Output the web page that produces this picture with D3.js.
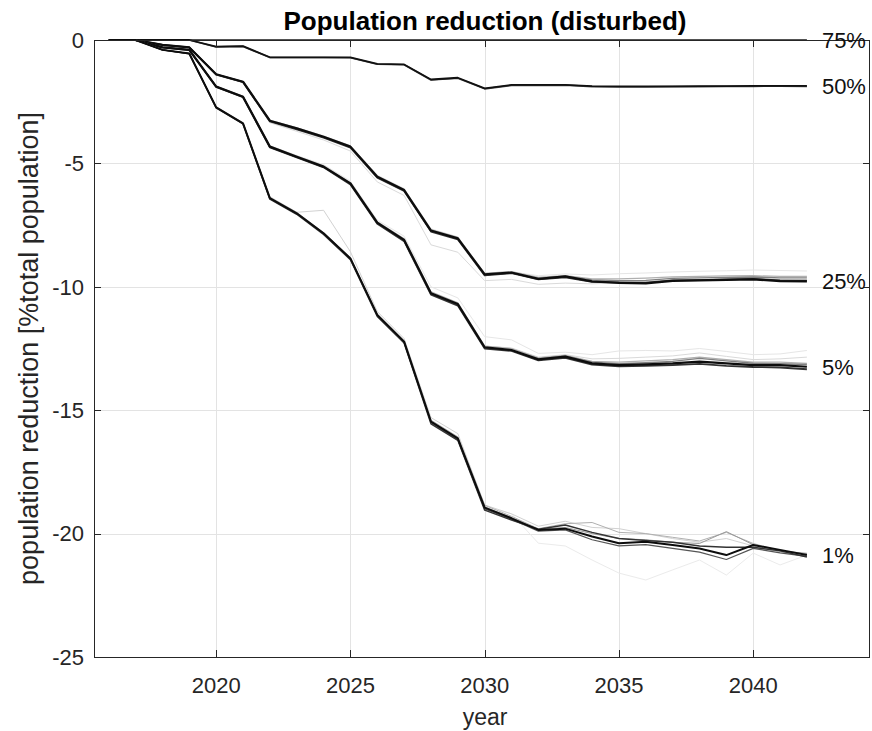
<!DOCTYPE html>
<html><head><meta charset="utf-8">
<script src="https://cdn.jsdelivr.net/npm/d3@7"></script>
<style>html,body{margin:0;padding:0;background:#fff;}svg{display:block;}</style>
</head><body>
<script>
const years = [2016,2017,2018,2019,2020,2021,2022,2023,2024,2025,2026,2027,2028,2029,2030,2031,2032,2033,2034,2035,2036,2037,2038,2039,2040,2041,2042];
const xTicks = [2020,2025,2030,2035,2040];
const yTicks = [0,-5,-10,-15,-20,-25];
const groupLabels = ["75%","50%","25%","5%","1%"];

// 75% scenario
const p75_a = [0,0,0,0,0,0,0,0,0,0,0,0,0,0,0,0,0,0,0,0,0,0,0,0,0,0,0];
// 50% scenario
const p50_b = [0,0,0,0,-0.28,-0.26,-0.71,-0.71,-0.71,-0.72,-0.98,-1.0,-1.62,-1.55,-1.98,-1.84,-1.84,-1.83,-1.89,-1.9,-1.9,-1.89,-1.89,-1.88,-1.88,-1.87,-1.88];
const p50_a = [0,0,0,0,-0.27,-0.25,-0.7,-0.7,-0.7,-0.7,-0.97,-0.99,-1.6,-1.53,-1.96,-1.82,-1.82,-1.82,-1.87,-1.88,-1.88,-1.88,-1.87,-1.87,-1.86,-1.86,-1.86];
// 25% scenario (light runs first)
const p25_d = [0,0,-0.2,-0.3,-1.38,-1.67,-3.24,-3.55,-3.88,-4.28,-5.48,-6.02,-7.65,-7.98,-9.45,-9.4,-9.55,-9.48,-9.52,-9.47,-9.44,-9.4,-9.37,-9.35,-9.32,-9.34,-9.36];
const p25_e = [0,0,-0.2,-0.3,-1.4,-1.72,-3.35,-3.7,-4.05,-4.5,-5.75,-6.3,-8.3,-8.6,-9.75,-9.7,-9.9,-9.85,-9.88,-9.84,-9.8,-9.72,-9.7,-9.68,-9.66,-9.7,-9.72];
const p25_c = [0,0,-0.2,-0.3,-1.38,-1.68,-3.25,-3.56,-3.9,-4.3,-5.5,-6.05,-7.68,-8.0,-9.46,-9.38,-9.62,-9.55,-9.68,-9.68,-9.65,-9.6,-9.58,-9.56,-9.55,-9.58,-9.58];
const p25_f = [0,0,-0.2,-0.3,-1.39,-1.7,-3.28,-3.6,-3.94,-4.34,-5.56,-6.1,-7.74,-8.06,-9.52,-9.44,-9.66,-9.57,-9.72,-9.75,-9.74,-9.66,-9.64,-9.62,-9.6,-9.64,-9.64];
const p25_b = [0,0,-0.2,-0.3,-1.4,-1.71,-3.3,-3.62,-3.96,-4.36,-5.58,-6.12,-7.76,-8.08,-9.54,-9.45,-9.7,-9.62,-9.8,-9.82,-9.83,-9.74,-9.73,-9.7,-9.68,-9.74,-9.75];
const p25_a = [0,0,-0.2,-0.3,-1.39,-1.69,-3.27,-3.58,-3.92,-4.32,-5.54,-6.08,-7.72,-8.04,-9.5,-9.42,-9.68,-9.58,-9.78,-9.84,-9.86,-9.76,-9.74,-9.72,-9.7,-9.77,-9.78];
// 5% scenario
const p5_d = [0,0,-0.3,-0.4,-1.87,-2.27,-4.28,-4.68,-5.05,-5.72,-7.3,-7.95,-10.0,-10.45,-12.02,-12.15,-12.7,-12.65,-12.75,-12.6,-12.58,-12.6,-12.5,-12.62,-12.75,-12.72,-12.58];
const p5_e = [0,0,-0.3,-0.4,-1.88,-2.29,-4.3,-4.72,-5.12,-5.8,-7.38,-8.08,-10.22,-10.68,-12.4,-12.48,-12.85,-12.75,-12.92,-12.9,-12.85,-12.8,-12.68,-12.82,-12.95,-12.92,-12.85];
const p5_c = [0,0,-0.3,-0.4,-1.88,-2.28,-4.3,-4.7,-5.1,-5.78,-7.36,-8.05,-10.2,-10.65,-12.4,-12.5,-12.88,-12.78,-13.02,-13.05,-13.0,-12.95,-12.85,-12.95,-13.05,-13.05,-13.1];
const p5_f = [0,0,-0.3,-0.4,-1.89,-2.3,-4.33,-4.74,-5.14,-5.83,-7.42,-8.12,-10.28,-10.72,-12.46,-12.58,-12.92,-12.8,-13.05,-13.12,-13.08,-13.02,-12.9,-13.0,-13.1,-13.12,-13.15];
const p5_b = [0,0,-0.3,-0.41,-1.9,-2.32,-4.35,-4.76,-5.16,-5.85,-7.45,-8.15,-10.32,-10.76,-12.5,-12.6,-12.98,-12.88,-13.15,-13.22,-13.2,-13.17,-13.12,-13.2,-13.25,-13.27,-13.34];
const p5_a = [0,0,-0.3,-0.4,-1.89,-2.3,-4.32,-4.73,-5.13,-5.81,-7.4,-8.1,-10.26,-10.7,-12.45,-12.56,-12.94,-12.83,-13.1,-13.17,-13.14,-13.1,-13.03,-13.1,-13.17,-13.17,-13.24];
// 1% scenario
const p1_d = [0,0,-0.4,-0.55,-2.74,-3.39,-6.42,-7.04,-7.86,-8.88,-11.16,-12.24,-15.5,-16.18,-18.9,-19.2,-20.39,-20.5,-21.07,-21.6,-21.88,-21.47,-21.07,-21.68,-20.79,-21.27,-20.87];
const p1_e = [0,0,-0.4,-0.55,-2.7,-3.35,-6.35,-6.98,-6.9,-8.58,-11.0,-12.1,-15.3,-15.95,-18.84,-19.2,-19.7,-19.5,-19.75,-19.8,-20.0,-20.2,-20.35,-20.2,-20.5,-20.75,-20.8];
const p1_c = [0,0,-0.4,-0.55,-2.72,-3.36,-6.38,-6.98,-7.8,-8.82,-11.1,-12.18,-15.4,-16.08,-18.85,-19.3,-19.8,-19.6,-19.55,-19.95,-20.0,-20.15,-20.3,-19.95,-20.4,-20.7,-20.8];
const p1_g = [0,0,-0.4,-0.55,-2.73,-3.38,-6.4,-7.0,-7.82,-8.84,-11.12,-12.2,-15.44,-16.12,-18.92,-19.35,-19.82,-19.75,-20.0,-20.2,-20.25,-20.35,-20.4,-19.92,-20.45,-20.7,-20.82];
const p1_f = [0,0,-0.4,-0.55,-2.73,-3.38,-6.42,-7.03,-7.85,-8.87,-11.16,-12.25,-15.5,-16.2,-19.0,-19.42,-19.9,-19.85,-20.25,-20.5,-20.45,-20.6,-20.75,-21.05,-20.6,-20.78,-20.92];
const p1_b = [0,0,-0.4,-0.56,-2.75,-3.4,-6.45,-7.06,-7.88,-8.9,-11.2,-12.28,-15.55,-16.22,-19.05,-19.45,-19.82,-19.65,-19.95,-20.2,-20.28,-20.35,-20.5,-20.55,-20.55,-20.7,-20.95];
const p1_a = [0,0,-0.4,-0.55,-2.73,-3.38,-6.41,-7.02,-7.83,-8.85,-11.14,-12.22,-15.46,-16.14,-18.95,-19.38,-19.85,-19.8,-20.12,-20.39,-20.33,-20.46,-20.6,-20.87,-20.46,-20.66,-20.87];

const groups = [
  [p75_a],
  [p50_b, p50_a],
  [p25_d, p25_e, p25_c, p25_f, p25_b, p25_a],
  [p5_d, p5_e, p5_c, p5_f, p5_b, p5_a],
  [p1_d, p1_e, p1_c, p1_g, p1_f, p1_b, p1_a]
];

const W = 872, H = 731;
const L = 94, R = 870, T = 40, B = 657;
const svg = d3.select("body").append("svg").attr("width", W).attr("height", H)
  .style("font-family", "'Liberation Sans', Arial, Helvetica, sans-serif");

const x = d3.scaleLinear().domain([2015.45, 2044.35]).range([L, R]);
const y = d3.scaleLinear().domain([-25, 0]).range([B, T]);

// grid
const grid = svg.append("g").attr("stroke", "#e3e3e3").attr("stroke-width", 1);
xTicks.forEach(t => grid.append("line").attr("x1", Math.round(x(t))+0.5).attr("x2", Math.round(x(t))+0.5).attr("y1", T).attr("y2", B));
yTicks.forEach(t => grid.append("line").attr("y1", Math.round(y(t))+0.5).attr("y2", Math.round(y(t))+0.5).attr("x1", L).attr("x2", R));

// lines
const line = d3.line().x((d, i) => x(years[i])).y(d => y(d));
svg.append("clipPath").attr("id", "c").append("rect").attr("x", L).attr("y", T - 3).attr("width", R - L).attr("height", B - T + 3);
const shadeSets = {
  1: [{c:"#1a1a1a", w:1.6}],
  2: [{c:"#444", w:1.6}, {c:"#111", w:1.8}],
  6: [{c:"#e6e6e6", w:1}, {c:"#dadada", w:1}, {c:"#b0b0b0", w:1.2}, {c:"#808080", w:1.4}, {c:"#333", w:1.8}, {c:"#0d0d0d", w:2.2}],
  7: [{c:"#ebebeb", w:1}, {c:"#d2d2d2", w:1}, {c:"#b0b0b0", w:1}, {c:"#9a9a9a", w:1}, {c:"#555", w:1.2}, {c:"#333", w:1.5}, {c:"#0d0d0d", w:2}]
};
const lg = svg.append("g").attr("clip-path", "url(#c)").attr("fill", "none").attr("stroke-linejoin", "round");
groups.forEach(runs => {
  const shades = shadeSets[runs.length];
  runs.forEach((r, i) => {
    lg.append("path").attr("d", line(r)).attr("stroke", shades[i].c).attr("stroke-width", shades[i].w);
  });
});

// axes box
const axCol = "#262626";
const ax = svg.append("g").attr("stroke", axCol).attr("stroke-width", 1).attr("fill", "none");
ax.append("rect").attr("x", L + 0.5).attr("y", T + 0.5).attr("width", R - L - 1).attr("height", B - T);
const tl = 7;
xTicks.forEach(t => {
  const xx = Math.round(x(t)) + 0.5;
  ax.append("line").attr("x1", xx).attr("x2", xx).attr("y1", B).attr("y2", B - tl);
  ax.append("line").attr("x1", xx).attr("x2", xx).attr("y1", T).attr("y2", T + tl);
});
yTicks.forEach(t => {
  const yy = Math.round(y(t)) + 0.5;
  ax.append("line").attr("y1", yy).attr("y2", yy).attr("x1", L).attr("x2", L + tl);
  ax.append("line").attr("y1", yy).attr("y2", yy).attr("x1", R).attr("x2", R - tl);
});

// tick labels
const tx = svg.append("g").attr("fill", axCol).attr("font-size", 22);
xTicks.forEach(t => tx.append("text").attr("x", x(t)).attr("y", 693).attr("text-anchor", "middle").text(t));
yTicks.forEach(t => tx.append("text").attr("x", 84).attr("y", y(t)).attr("dy", "0.35em").attr("text-anchor", "end").text(t === 0 ? "0" : "-" + Math.abs(t)));

// axis titles
svg.append("text").attr("x", (L + R) / 2 + 3).attr("y", 725).attr("text-anchor", "middle").attr("font-size", 23).attr("fill", axCol).text("year");
svg.append("text").attr("transform", `translate(38,${(T + B) / 2}) rotate(-90)`).attr("text-anchor", "middle").attr("font-size", 27).attr("fill", axCol).text("population reduction [%total population]");
svg.append("text").attr("x", (L + R) / 2 + 3).attr("y", 30).attr("text-anchor", "middle").attr("font-size", 26).attr("font-weight", "bold").attr("fill", "#000").text("Population reduction (disturbed)");

// group labels
groups.forEach((runs, gi) => {
  const last = runs[runs.length - 1];
  svg.append("text").attr("x", x(years[years.length - 1]) + 15).attr("y", y(last[last.length - 1]))
    .attr("dy", "0.36em").attr("font-size", 22).attr("fill", "#111").text(groupLabels[gi]);
});
</script>
</body></html>
